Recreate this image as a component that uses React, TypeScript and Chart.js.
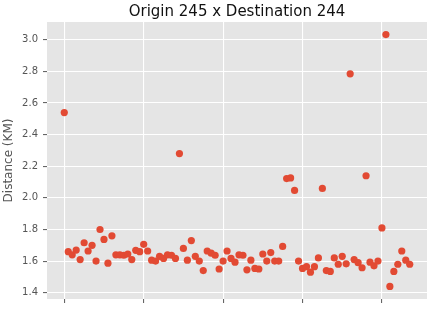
import React, { useEffect, useRef } from "react";
import { Chart, registerables } from "chart.js";

Chart.register(...registerables);

const TITLE = "Origin 245 x Destination 244";
const Y_LABEL = "Distance (KM)";
const X_TICKS = [0, 20, 40, 60, 80];
const Y_TICKS = [1.4, 1.6, 1.8, 2.0, 2.2, 2.4, 2.6, 2.8, 3.0];
const DISTANCES = [
  2.54, 1.66, 1.64, 1.67, 1.61, 1.716, 1.664, 1.7, 1.6, 1.8,
  1.737, 1.587, 1.76, 1.64, 1.64, 1.637, 1.645, 1.61, 1.668, 1.66,
  1.706, 1.664, 1.606, 1.6, 1.63, 1.617, 1.64, 1.637, 1.617, 2.28,
  1.68, 1.606, 1.73, 1.63, 1.6, 1.54, 1.664, 1.65, 1.637, 1.55,
  1.6, 1.664, 1.617, 1.593, 1.64, 1.637, 1.545, 1.606, 1.554, 1.55,
  1.645, 1.6, 1.654, 1.6, 1.6, 1.693, 2.122, 2.126, 2.047, 1.6,
  1.554, 1.565, 1.53, 1.565, 1.62, 2.06, 1.54, 1.535, 1.62, 1.58,
  1.63, 1.583, 2.785, 1.61, 1.59, 1.558, 2.14, 1.593, 1.57, 1.6,
  1.81, 3.033, 1.44, 1.535, 1.58, 1.664, 1.606, 1.58,
];

export default function App() {
  const ref = useRef<HTMLCanvasElement | null>(null);

  useEffect(() => {
    document.body.style.margin = "0";
    const canvas = ref.current;
    if (!canvas) return;

    const bgPlugin = {
      id: "ggbg",
      beforeDraw(chart: any) {
        const { ctx, chartArea } = chart;
        ctx.save();
        ctx.fillStyle = "#E5E5E5";
        ctx.fillRect(
          chartArea.left,
          chartArea.top,
          chartArea.right - chartArea.left,
          chartArea.bottom - chartArea.top
        );
        ctx.restore();
      },
      afterDraw(chart: any) {
        const { ctx, chartArea } = chart;
        ctx.save();
        ctx.fillStyle = "#111";
        ctx.font = "15px 'DejaVu Sans'";
        ctx.textAlign = "center";
        ctx.textBaseline = "alphabetic";
        ctx.fillText(TITLE, (chartArea.left + chartArea.right) / 2, 15.5);
        ctx.restore();
      },
    };

    const data = DISTANCES.map((y, i) => ({ x: i, y }));

    const chart = new Chart(canvas, {
      type: "scatter",
      data: {
        datasets: [
          {
            data,
            backgroundColor: "#E24A33",
            borderWidth: 0,
            pointRadius: 3.6,
            pointHoverRadius: 3.6,
          },
        ],
      },
      options: {
        animation: false,
        responsive: false,
        maintainAspectRatio: false,
        layout: { padding: { top: 22, right: 4, left: 0, bottom: 0 } },
        plugins: {
          legend: { display: false },
          tooltip: { enabled: false },
          title: { display: false },
        },
        scales: {
          x: {
            type: "linear",
            min: -4.35,
            max: 91.35,
            afterBuildTicks: (s: any) => {
              s.ticks = X_TICKS.map((v) => ({ value: v }));
            },
            afterFit: (s: any) => {
              s.height = 6;
            },
            ticks: { display: false },
            grid: {
              color: "#FFFFFF",
              lineWidth: 1.1,
              tickColor: "#666",
              tickLength: 4,
              drawTicks: true,
            },
            border: { display: false },
          },
          y: {
            type: "linear",
            min: 1.3603,
            max: 3.1127,
            afterBuildTicks: (s: any) => {
              s.ticks = Y_TICKS.map((v) => ({ value: v }));
            },
            afterFit: (s: any) => {
              s.width = 47;
            },
            ticks: {
              color: "#555",
              padding: 5,
              font: { family: "'DejaVu Sans'", size: 10 },
              callback: (v: any) => Number(v).toFixed(1),
            },
            grid: {
              color: "#FFFFFF",
              lineWidth: 1.1,
              tickColor: "#666",
              tickLength: 4,
            },
            border: { display: false },
            title: {
              display: true,
              text: Y_LABEL,
              color: "#555",
              padding: { top: 2, bottom: 0 },
              font: { family: "'DejaVu Sans'", size: 12 },
            },
          },
        },
      },
      plugins: [bgPlugin],
    });

    return () => chart.destroy();
  }, []);

  return (
    <div style={{ width: 431, height: 310, position: "relative" }}>
      <canvas ref={ref} width={431} height={310} style={{ display: "block" }} />
    </div>
  );
}
